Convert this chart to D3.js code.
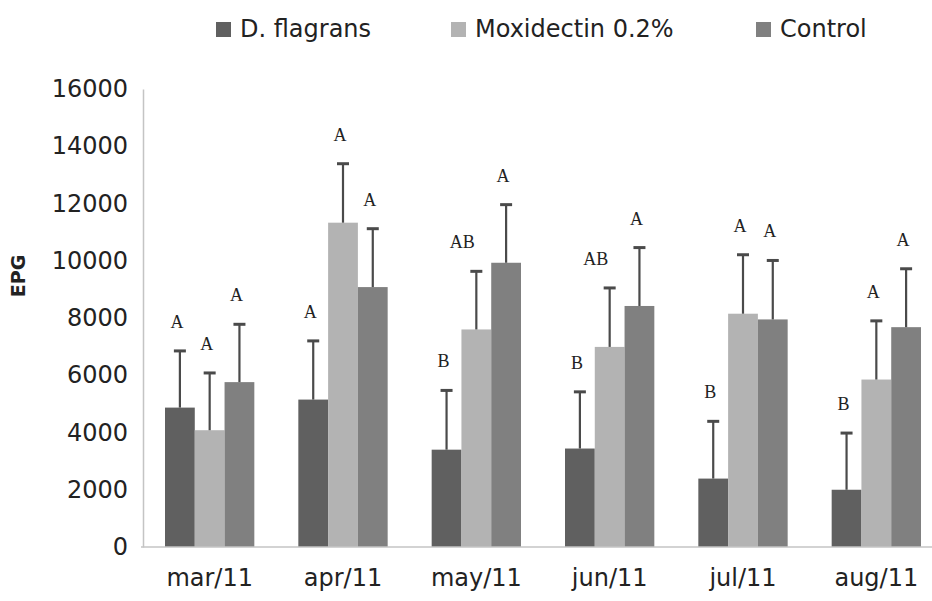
<!DOCTYPE html>
<html>
<head>
<meta charset="utf-8">
<script src="https://cdn.jsdelivr.net/npm/d3@7"></script>
<style>
  body { margin: 0; background: #fff; }
  svg { display: block; }
  text { font-family: "DejaVu Sans", sans-serif; fill: #222; }
</style>
</head>
<body>
<div class="chart"></div>
<script>
"use strict";

// Months on the x axis
const months = ["mar/11", "apr/11", "may/11", "jun/11", "jul/11", "aug/11"];
const seriesNames = ["D. flagrans", "Moxidectin 0.2%", "Control"];

// Mean EPG per group
const flagransValues = [4870, 5150, 3400, 3440, 2390, 2000];
const moxidectinValues = [4080, 11330, 7600, 6990, 8150, 5850];
const controlValues = [5760, 9080, 9930, 8420, 7950, 7680];

// Upper error bars (standard deviation)
const flagransErrors = [1980, 2050, 2070, 1980, 2000, 1980];
const moxidectinErrors = [2000, 2060, 2030, 2060, 2060, 2050];
const controlErrors = [2020, 2040, 2030, 2040, 2060, 2040];

// Significance letters above each bar
const flagransLetters = ["A", "A", "B", "B", "B", "B"];
const moxidectinLetters = ["A", "A", "AB", "AB", "A", "A"];
const controlLetters = ["A", "A", "A", "A", "A", "A"];

const yTicks = [0, 2000, 4000, 6000, 8000, 10000, 12000, 14000, 16000];

const colors = ["#606060", "#b3b3b3", "#808080"];

const series = [
  { name: seriesNames[0], values: flagransValues, errors: flagransErrors, letters: flagransLetters },
  { name: seriesNames[1], values: moxidectinValues, errors: moxidectinErrors, letters: moxidectinLetters },
  { name: seriesNames[2], values: controlValues, errors: controlErrors, letters: controlLetters }
];

const bars = [];
months.forEach((m, i) => {
  series.forEach((s, j) => {
    bars.push({ month: m, name: s.name, idx: j, value: s.values[i], err: s.errors[i], letter: s.letters[i] });
  });
});

const width = 932;
const height = 601;
const plotLeft = 143;
const baseline = 547;
const plotTop = 89;

const svg = d3.select(".chart")
  .append("svg")
    .attr("width", width)
    .attr("height", height);

const xScale = d3.scaleBand()
  .domain(months)
  .range([plotLeft, plotLeft + 800])
  .paddingInner(0.33)
  .paddingOuter(0.165);

const xInner = d3.scaleBand()
  .domain(seriesNames)
  .range([0, xScale.bandwidth()]);

const yScale = d3.scaleLinear()
  .domain([0, 16000])
  .range([baseline, plotTop]);

// Y axis
const yAxis = svg.append("g")
  .attr("class", "axis-y")
  .attr("transform", `translate(${plotLeft}, 0)`)
  .call(d3.axisLeft(yScale).tickValues(yTicks).tickFormat(d3.format("d")).tickSize(0).tickPadding(15));

yAxis.select(".domain").attr("stroke", "#c4c4c4").attr("stroke-width", 1.5);
yAxis.selectAll(".tick text")
  .attr("font-size", 24)
  .attr("font-family", "DejaVu Sans")
  .attr("fill", "#222");

// Bars
svg.append("g")
  .selectAll("rect")
  .data(bars)
  .join("rect")
    .attr("x", d => xScale(d.month) + xInner(d.name))
    .attr("y", d => yScale(d.value))
    .attr("width", xInner.bandwidth())
    .attr("height", d => baseline - yScale(d.value))
    .attr("fill", d => colors[d.idx]);

// Error bars
const errG = svg.append("g")
  .attr("stroke", "#4a4a4a")
  .attr("stroke-width", 2.2);

errG.selectAll("line.v")
  .data(bars)
  .join("line")
    .attr("class", "v")
    .attr("x1", d => xScale(d.month) + xInner(d.name) + xInner.bandwidth() / 2)
    .attr("x2", d => xScale(d.month) + xInner(d.name) + xInner.bandwidth() / 2)
    .attr("y1", d => yScale(d.value))
    .attr("y2", d => yScale(d.value + d.err));

errG.selectAll("line.cap")
  .data(bars)
  .join("line")
    .attr("class", "cap")
    .attr("x1", d => xScale(d.month) + xInner(d.name) + xInner.bandwidth() / 2 - 6)
    .attr("x2", d => xScale(d.month) + xInner(d.name) + xInner.bandwidth() / 2 + 6)
    .attr("y1", d => yScale(d.value + d.err))
    .attr("y2", d => yScale(d.value + d.err))
    .attr("stroke-width", 3);

// Letters
svg.append("g")
  .selectAll("text")
  .data(bars)
  .join("text")
    .attr("x", d => xScale(d.month) + xInner(d.name) + xInner.bandwidth() / 2 - (d.letter.length > 1 ? 14 : 3))
    .attr("y", d => yScale(d.value + d.err) - 23)
    .attr("text-anchor", "middle")
    .attr("font-size", 18)
    .style("font-family", "'Liberation Serif', serif")
    .style("fill", "#222")
    .text(d => d.letter);

// X axis
const xAxis = svg.append("g")
  .attr("class", "axis-x")
  .attr("transform", `translate(0, ${baseline})`)
  .call(d3.axisBottom(xScale).tickSize(0).tickPadding(22));

xAxis.select(".domain").remove();
xAxis.append("line")
  .attr("x1", plotLeft - 2)
  .attr("x2", width)
  .attr("stroke", "#c4c4c4")
  .attr("stroke-width", 1.5);
xAxis.selectAll(".tick text")
  .attr("font-size", 24)
  .attr("font-family", "DejaVu Sans")
  .attr("fill", "#222");

// Y axis title
svg.append("text")
  .attr("transform", "translate(25, 276) rotate(-90)")
  .attr("text-anchor", "middle")
  .attr("font-size", 19)
  .attr("font-weight", "bold")
  .text("EPG");

// Legend
const legendX = [216, 451, 756];
const legend = svg.append("g")
  .selectAll("g")
  .data(seriesNames)
  .join("g")
    .attr("transform", (d, i) => `translate(${legendX[i]}, 22)`);

legend.append("rect")
  .attr("width", 15)
  .attr("height", 15)
  .attr("fill", (d, i) => colors[i]);

legend.append("text")
  .attr("x", 24)
  .attr("y", 15)
  .attr("font-size", 24)
  .text(d => d);
</script>
</body>
</html>
